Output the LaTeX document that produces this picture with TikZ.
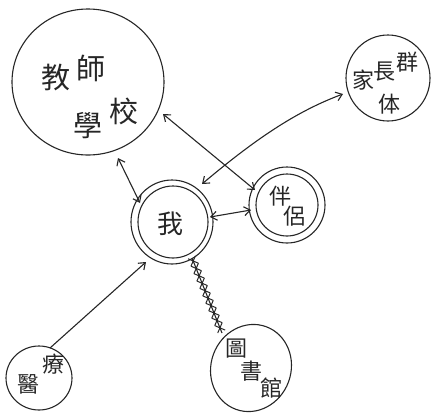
\documentclass[tikz,border=0pt]{standalone}
\usepackage{fontspec}
\newfontfamily\cjk{Noto Sans CJK TC}
\usetikzlibrary{arrows.meta,decorations.markings}
\begin{document}
\begin{tikzpicture}[x=1pt,y=-1pt,
  pen/.style={draw=black!85,line width=1.1pt},
  lbl/.style={font=\cjk\fontsize{29}{31}\selectfont,text=black!85,inner sep=0pt},
  sml/.style={font=\cjk\fontsize{22}{24}\selectfont,text=black!85,inner sep=0pt},
  link/.style={pen,{Straight Barb[length=6pt,width=9pt]}-{Straight Barb[length=6pt,width=9pt]}},
  onearrow/.style={pen,-{Straight Barb[length=6pt,width=9pt]}},
  barbed/.style={pen,decoration={markings,mark=between positions 0.04 and 0.96 step 8pt with {\draw[line width=1pt] (-4pt,-4pt)--(4pt,4pt) (-4pt,4pt)--(4pt,-4pt);}},postaction={decorate}}]
\useasboundingbox (0,0) rectangle (437,416);
% teacher/school
\draw[pen] (88,82) ellipse [x radius=76, y radius=73];
\node[lbl] (t1) at (56,78) {教};
\node[lbl] (t2) at (91,68) {師};
\node[lbl] (t3) at (88,126) {學};
\node[lbl] (t4) at (124,111) {校};
% parents
\draw[pen] (388,78) ellipse [x radius=42, y radius=43];
\node[sml] (p1) at (363,80) {家};
\node[sml] (p2) at (384,72) {長};
\node[sml] (p3) at (407,62) {群};
\node[sml] (p4) at (389,104) {体};
% partner
\draw[pen] (287,205) circle [radius=38];
\draw[pen] (287,205) circle [radius=31];
\node[sml] (q1) at (280,196) {伴};
\node[sml] (q2) at (294,216) {侶};
% me
\draw[pen] (172,222) ellipse [x radius=41, y radius=42];
\draw[pen] (173,222) ellipse [x radius=35, y radius=36];
\node[lbl,font=\cjk\fontsize{26}{28}\selectfont] (me) at (170,224) {我};
% medical
\draw[pen] (39,378) ellipse [x radius=33, y radius=32];
\node[sml] (m1) at (28,384) {醫};
\node[sml] (m2) at (53,364) {療};
% library
\draw[pen,rotate around={-20:(251,368)}] (251,368) ellipse [x radius=40, y radius=44];
\node[sml] (l1) at (236,349) {圖};
\node[sml] (l2) at (251,371) {書};
\node[sml] (l3) at (271,388) {館};
% connectors
\coordinate (a1) at (140,203); \coordinate (a2) at (118,158);
\draw[link] (a1) -- (a2);
\coordinate (b1) at (163,114); \coordinate (b2) at (255,190);
\draw[link] (b1) -- (b2);
\coordinate (c1) at (202,184); \coordinate (c2) at (343,94);
\draw[link] (c1) .. controls (260,135) and (300,110) .. (c2);
\coordinate (d1) at (210,217); \coordinate (d2) at (251,210);
\draw[link] (d1) -- (d2);
\coordinate (e1) at (50,348); \coordinate (e2) at (146,262);
\draw[onearrow] (e1) -- (e2);
\coordinate (f1) at (192,258); \coordinate (f2) at (222,333);
\draw[barbed] (f1) -- (f2);
\end{tikzpicture}
\end{document}
